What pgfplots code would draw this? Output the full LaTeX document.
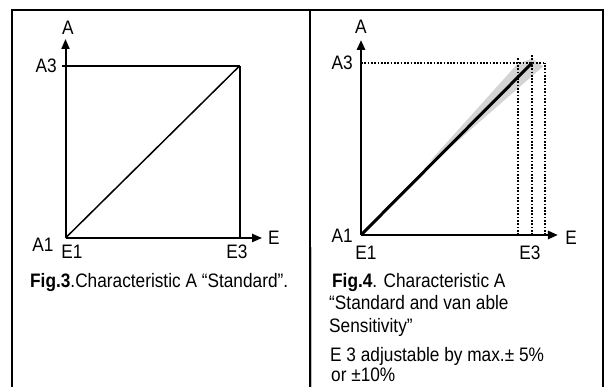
\documentclass[border=0pt]{standalone}
\usepackage{pgfplots}
\pgfplotsset{compat=1.18}
\usetikzlibrary{arrows.meta}
\usepackage{fontspec}
\setmainfont{Liberation Sans}[FakeStretch=0.885]
\begin{document}
\begin{tikzpicture}[x=1pt,y=1pt,font=\fontsize{19.5}{23}\selectfont,
  lab/.style={inner sep=0pt},
  dotl/.style={line width=1.3pt, dash pattern=on 1.7pt off 1.6pt}]
\useasboundingbox (0,0) rectangle (605,387);
\fill[white] (0,0) rectangle (605,387);
% frame
\draw[line width=2pt] (12,-5) -- (12,377) -- (603,377) -- (603,-5);
\draw[line width=2pt] (309.5,-5) -- (309.5,377);
\draw[black!25, line width=0.8pt] (311.5,-5) -- (311.5,140);

% ---------- left chart ----------
\begin{axis}[at={(65.5pt,149pt)}, anchor=south west,
  x=174pt, y=172pt, xmin=0, xmax=1.13, ymin=0, ymax=1.157,
  axis lines=left, xtick=\empty, ytick=\empty, clip=false,
  axis line style={line width=2pt, -{Triangle[length=10pt,width=8pt]}}]
\addplot[line width=1.3pt] coordinates {(-0.02,1) (1,1)};
\addplot[line width=2pt] coordinates {(1,1) (1,0)};
\addplot[line width=1.5pt] coordinates {(0,0) (1,1)};
\end{axis}
\node[lab] at (68,359) {A};
\node[lab,anchor=east] at (57,321) {A3};
\node[lab] at (43,142) {A1};
\node[lab] at (72,135) {E1};
\node[lab] at (237,135) {E3};
\node[lab] at (274,149) {E};
\node[lab,anchor=base west] at (30,99.5) {\textbf{Fig.3}.Characteristic A “Standard”.};

% ---------- right chart ----------
\begin{axis}[at={(361pt,152pt)}, anchor=south west,
  x=171pt, y=172pt, xmin=0, xmax=1.152, ymin=0, ymax=1.134,
  axis lines=left, xtick=\empty, ytick=\empty, clip=false,
  axis line style={line width=2.5pt, -{Triangle[length=10pt,width=8pt]}}]
\addplot[fill=black!17, draw=none] coordinates {(0.4,0.425) (0.915,0.995) (1.0,1.025) (1.065,0.98) (0.5,0.49) (0.4,0.425)};
\addplot[dotl] coordinates {(0,1) (1.08,1)};
\addplot[dotl] coordinates {(0.918,0) (0.918,1.03)};
\addplot[dotl] coordinates {(1,0) (1,1.045)};
\addplot[dotl] coordinates {(1.076,0) (1.076,1.0)};
\addplot[line width=3pt] coordinates {(0,0) (1,1)};
\end{axis}
\node[lab] at (361,360) {A};
\node[lab,anchor=east] at (353,324) {A3};
\node[lab,anchor=east] at (353,151) {A1};
\node[lab] at (366,134) {E1};
\node[lab] at (530,134) {E3};
\node[lab] at (571,149) {E};
\node[lab,anchor=base west] at (332,99.5) {\textbf{Fig.4}. Characteristic A};
\node[lab,anchor=base west] at (329,77) {“Standard and van able};
\node[lab,anchor=base west] at (329,54) {Sensitivity”};
\node[lab,anchor=base west] at (330,25) {E 3 adjustable by max.± 5\%};
\node[lab,anchor=base west] at (331,5) {or ±10\%};
\end{tikzpicture}
\end{document}
